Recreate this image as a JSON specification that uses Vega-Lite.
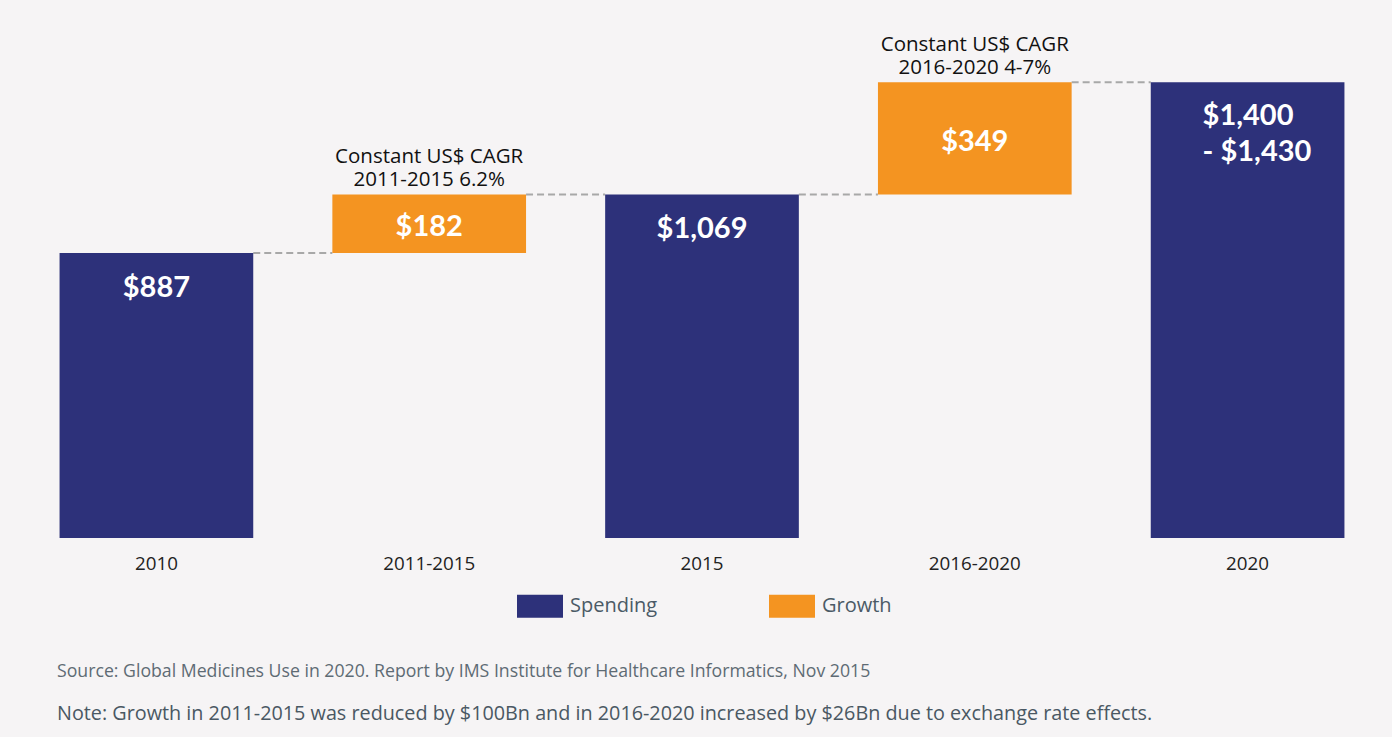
{
  "$schema": "https://vega.github.io/schema/vega-lite/v6.json",
  "width": 1364,
  "height": 527,
  "autosize": "none",
  "padding": {"left": 20, "top": 11, "right": 8, "bottom": 199},
  "background": "#F6F4F5",
  "config": {
    "view": {"stroke": null},
    "font": "Open Sans"
  },
  "title": {
    "text": "Source: Global Medicines Use in 2020. Report by IMS Institute for Healthcare Informatics, Nov 2015",
    "subtitle": "Note: Growth in 2011-2015 was reduced by $100Bn and in 2016-2020 increased by $26Bn due to exchange rate effects.",
    "orient": "bottom",
    "anchor": "start",
    "frame": "group",
    "dx": 37,
    "offset": 45,
    "font": "Open Sans",
    "fontSize": 17.7,
    "fontWeight": "normal",
    "color": "#5E6B74",
    "subtitleFont": "Open Sans",
    "subtitleFontSize": 19.8,
    "subtitleColor": "#4A5863",
    "subtitlePadding": 23
  },
  "datasets": {
    "bars": [
      {"period": "2010", "type": "Spending", "start": 0, "end": 887, "label": "$887", "note": ""},
      {"period": "2011-2015", "type": "Growth", "start": 887, "end": 1069, "label": "$182", "note": "Constant US$ CAGR\n2011-2015 6.2%"},
      {"period": "2015", "type": "Spending", "start": 0, "end": 1069, "label": "$1,069", "note": ""},
      {"period": "2016-2020", "type": "Growth", "start": 1069, "end": 1418, "label": "$349", "note": "Constant US$ CAGR\n\u00a0\u00a0\u00a0\u00a02016-2020 4-7%"},
      {"period": "2020", "type": "Spending", "start": 0, "end": 1418, "label": "$1,400\n- $1,430", "note": ""}
    ],
    "links": [
      {"from": "2010", "to": "2011-2015", "level": 887},
      {"from": "2011-2015", "to": "2015", "level": 1069},
      {"from": "2015", "to": "2016-2020", "level": 1069},
      {"from": "2016-2020", "to": "2020", "level": 1418}
    ]
  },
  "encoding": {
    "x": {
      "field": "period",
      "type": "nominal",
      "sort": ["2010", "2011-2015", "2015", "2016-2020", "2020"],
      "scale": {"paddingInner": 0.29, "paddingOuter": 0.145},
      "axis": {
        "title": null,
        "domain": false,
        "ticks": false,
        "labelAngle": 0,
        "labelFontSize": 18.8,
        "labelColor": "#222222",
        "labelFont": "Open Sans",
        "labelPadding": 16
      }
    }
  },
  "layer": [
    {
      "data": {"name": "links"},
      "mark": {"type": "rule", "stroke": "#A8A8A8", "strokeWidth": 2, "strokeDash": [7, 4]},
      "encoding": {
        "x": {"field": "from", "type": "nominal", "sort": ["2010", "2011-2015", "2015", "2016-2020", "2020"], "bandPosition": 1},
        "x2": {"field": "to", "bandPosition": 0},
        "y": {"field": "level", "type": "quantitative", "scale": {"domain": [0, 1640], "nice": false, "zero": true}, "axis": null}
      }
    },
    {
      "data": {"name": "bars"},
      "mark": {"type": "bar"},
      "encoding": {
        "y": {"field": "start", "type": "quantitative", "scale": {"domain": [0, 1640], "nice": false}, "axis": null},
        "y2": {"field": "end"},
        "color": {
          "field": "type",
          "type": "nominal",
          "scale": {"domain": ["Spending", "Growth"], "range": ["#2D317A", "#F49421"]},
          "legend": {
            "title": null,
            "orient": "none",
            "legendX": 497,
            "legendY": 572,
            "direction": "horizontal",
            "symbolType": "M-1,-0.5H1V0.5H-1Z",
            "symbolSize": 2116,
            "symbolStrokeWidth": 0,
            "labelFontSize": 20,
            "labelFont": "Open Sans",
            "labelColor": "#4B5A66",
            "labelOffset": 7,
            "columnPadding": 111,
            "padding": 0
          }
        }
      }
    },
    {
      "data": {"name": "bars"},
      "transform": [{"filter": "datum.type === 'Spending' && datum.period !== '2020'"}],
      "mark": {"type": "text", "color": "white", "font": "Lato", "fontSize": 29, "fontWeight": "bold", "baseline": "middle", "dy": 35},
      "encoding": {
        "y": {"field": "end", "type": "quantitative", "scale": {"domain": [0, 1640], "nice": false}},
        "text": {"field": "label"}
      }
    },
    {
      "data": {"name": "bars"},
      "transform": [{"filter": "datum.period === '2020'"}],
      "mark": {"type": "text", "color": "white", "font": "Lato", "fontSize": 29, "fontWeight": "bold", "baseline": "middle", "align": "left", "dx": -45, "dy": 34, "lineBreak": "\n", "lineHeight": 36},
      "encoding": {
        "y": {"field": "end", "type": "quantitative", "scale": {"domain": [0, 1640], "nice": false}},
        "text": {"field": "label"}
      }
    },
    {
      "data": {"name": "bars"},
      "transform": [{"filter": "datum.period === '2011-2015'"}],
      "mark": {"type": "text", "color": "white", "font": "Lato", "fontSize": 29, "fontWeight": "bold", "baseline": "middle", "dy": 33},
      "encoding": {
        "y": {"field": "end", "type": "quantitative", "scale": {"domain": [0, 1640], "nice": false}},
        "text": {"field": "label"}
      }
    },
    {
      "data": {"name": "bars"},
      "transform": [{"filter": "datum.period === '2016-2020'"}],
      "mark": {"type": "text", "color": "white", "font": "Lato", "fontSize": 29, "fontWeight": "bold", "baseline": "middle", "dy": 60},
      "encoding": {
        "y": {"field": "end", "type": "quantitative", "scale": {"domain": [0, 1640], "nice": false}},
        "text": {"field": "label"}
      }
    },
    {
      "data": {"name": "bars"},
      "transform": [{"filter": "datum.type === 'Growth'"}],
      "mark": {"type": "text", "color": "#111111", "fontSize": 20.5, "baseline": "bottom", "dy": -27, "lineBreak": "\n", "lineHeight": 23},
      "encoding": {
        "y": {"field": "end", "type": "quantitative", "scale": {"domain": [0, 1640], "nice": false}},
        "text": {"field": "note"}
      }
    }
  ]
}
